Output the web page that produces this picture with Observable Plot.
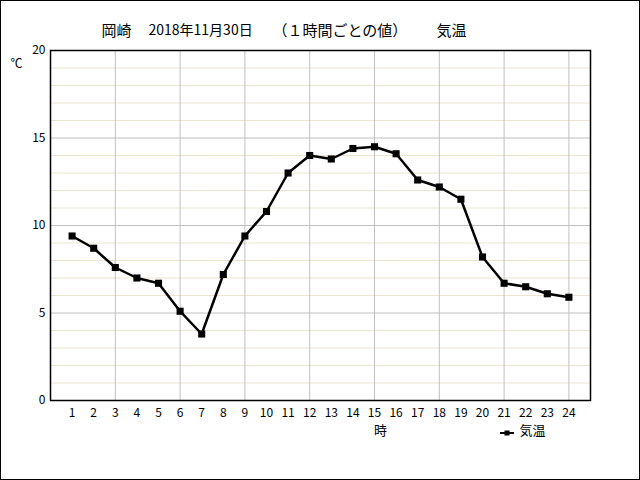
<!DOCTYPE html>
<html><head><meta charset="utf-8">
<script src="https://cdn.jsdelivr.net/npm/d3@7"></script>
<script src="https://cdn.jsdelivr.net/npm/@observablehq/plot@0.6"></script>
<style>
body{margin:0;background:#fff;}
#wrap{position:relative;width:640px;height:480px;}
#border{position:absolute;left:0;top:0;width:640px;height:480px;box-sizing:border-box;border:1px solid #000;pointer-events:none;}
</style>
</head><body>
<div id="wrap"><div id="border"></div></div>
<script>
const hours = [1,2,3,4,5,6,7,8,9,10,11,12,13,14,15,16,17,18,19,20,21,22,23,24];
const temps = [9.4,8.7,7.6,7.0,6.7,5.1,3.8,7.2,9.4,10.8,13.0,14.0,13.8,14.4,14.5,14.1,12.6,12.2,11.5,8.2,6.7,6.5,6.1,5.9];
const yTicks = [0,5,10,15,20];
const minorY = [1,2,3,4,6,7,8,9,11,12,13,14,16,17,18,19];
const xGrid = [3,6,9,12,15,18,21,24];
const titleParts = ["岡崎", "2018年11月30日", "（１時間ごとの値）", "気温"];
const unitText = "℃";
const xLabelText = "時";
const seriesName = "気温";

const data = hours.map((h,i)=>({hour:h, temp:temps[i]}));
const font = "'Noto Sans CJK JP', sans-serif";

const legendSymbol = (index, scales, values, dims) => {
  const x0 = dims.marginLeft + 450, y0 = dims.height - dims.marginBottom + 33;
  const g = d3.create("svg:g");
  g.append("line").attr("x1", x0).attr("x2", x0+14).attr("y1", y0).attr("y2", y0).attr("stroke","#000").attr("stroke-width",2);
  g.append("rect").attr("x", x0+4.5).attr("y", y0-2.5).attr("width",5).attr("height",5).attr("fill","#000");
  return g.node();
};

const titleOffsets = [51, 98, 222, 386];
const titleSizes = [15, 14, 15, 15];

const chart = Plot.plot({
  width: 640, height: 480,
  marginLeft: 50, marginRight: 50, marginTop: 50, marginBottom: 80,
  style: {fontFamily: font, fontSize: "12px", background: "#fff", color: "#000"},
  x: {domain: [0, 25], axis: null},
  y: {domain: [0, 20], axis: null},
  marks: [
    Plot.ruleY(minorY, {stroke: "#ebe5d0", strokeWidth: 1}),
    Plot.ruleY([5,10,15], {stroke: "#c0c0c0", strokeWidth: 1}),
    Plot.ruleX(xGrid, {stroke: "#c0c0c0", strokeWidth: 1}),
    Plot.frame({stroke: "#000", strokeWidth: 1.5}),
    Plot.axisX({ticks: hours, tickSize: 0, tickPadding: 8, tickFormat: d => String(d), fontSize: 12, label: null}),
    Plot.axisY({ticks: yTicks, tickSize: 0, tickPadding: 5, tickFormat: d => String(d), fontSize: 12, label: null}),
    Plot.line(data, {x: "hour", y: "temp", stroke: "#000", strokeWidth: 2.5}),
    Plot.dot(data, {x: "hour", y: "temp", symbol: "square", r: 4, fill: "#000", stroke: "none"}),
    ...titleParts.map((t, i) => Plot.text([t], {frameAnchor: "top-left", dx: titleOffsets[i], dy: -25, textAnchor: "start", fontSize: titleSizes[i], fill: "#000"})),
    Plot.text([unitText], {frameAnchor: "top-left", dx: -34, dy: 9, textAnchor: "middle", fontSize: 12, fill: "#000"}),
    Plot.text([xLabelText], {frameAnchor: "bottom-left", dx: 330, dy: 34, textAnchor: "middle", fontSize: 13, fill: "#000"}),
    Plot.text([seriesName], {frameAnchor: "bottom-left", dx: 469, dy: 34, textAnchor: "start", fontSize: 13, fill: "#000"}),
    legendSymbol
  ]
});
document.getElementById("wrap").prepend(chart);
chart.style.display = "block";
</script>
</body></html>
